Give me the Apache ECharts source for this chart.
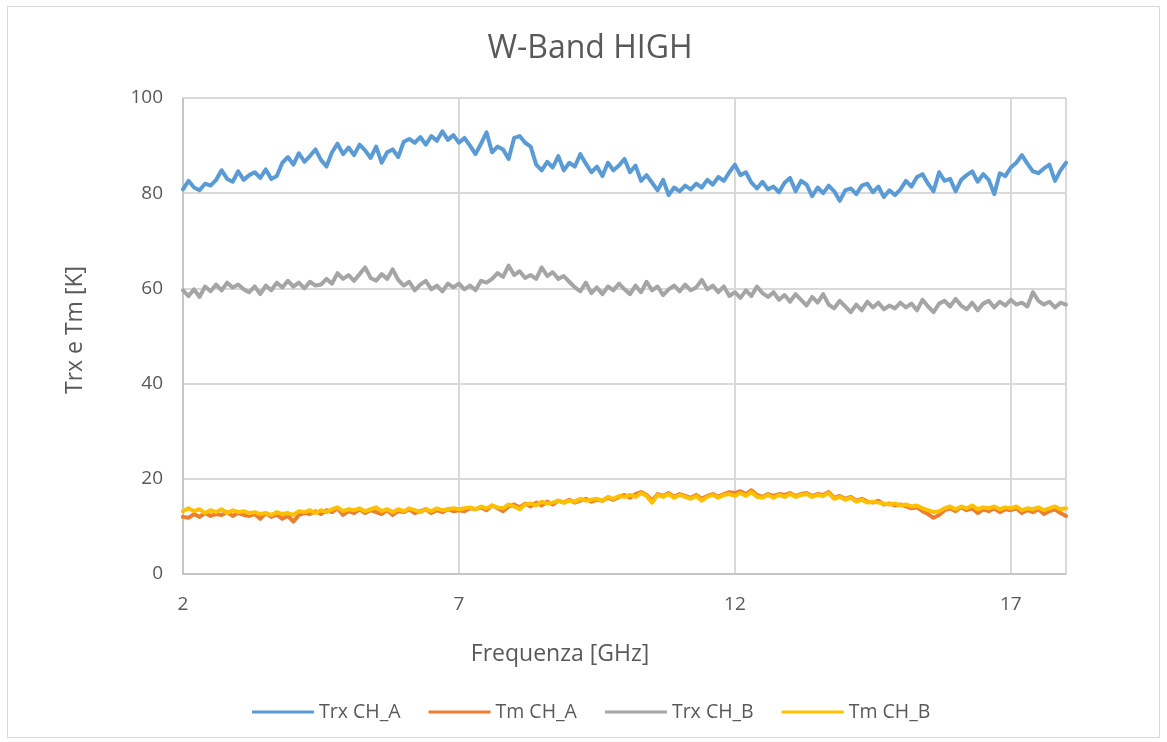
<!DOCTYPE html>
<html>
<head>
<meta charset="utf-8">
<script src="https://cdn.jsdelivr.net/npm/echarts@6/dist/echarts.min.js"></script>
<style>
html,body{margin:0;padding:0;background:#fff;}
#chart{width:1167px;height:742px;}
</style>
</head>
<body>
<div id="chart"></div>
<script>
// Frequency grid (GHz): 2.0 .. 18.0 in 0.1 steps
const freqStart = 2.0;
const freqStep = 0.1;

const xTicks = [2, 7, 12, 17];
const yTicks = [0, 20, 40, 60, 80, 100];

const trxA = [
80.8,82.6,81.2,80.6,82.0,81.6,82.8,84.8,83.0,82.4,84.6,
82.8,83.8,84.4,83.2,85.0,83.0,83.6,86.4,87.6,86.0,
88.4,86.6,87.8,89.2,87.0,85.6,88.6,90.4,88.2,89.6,
88.0,90.2,89.0,87.4,89.8,86.4,88.6,89.2,87.6,90.8,
91.4,90.6,91.8,90.2,92.0,91.0,93.0,91.2,92.2,90.6,
91.6,90.0,88.2,90.4,92.8,88.6,89.8,89.2,87.2,91.6,
92.0,90.6,89.8,86.0,84.8,86.6,85.4,87.8,84.8,86.4,
85.6,88.2,86.2,84.4,85.6,83.6,86.4,84.8,85.8,87.2,
84.4,85.8,82.6,83.8,82.2,80.6,82.8,79.6,81.2,80.4,
81.6,80.8,82.0,81.2,82.8,81.8,83.4,82.6,84.4,86.0,
83.8,84.4,82.2,81.0,82.4,80.8,81.4,80.2,82.2,83.2,
80.4,82.6,81.8,79.4,81.2,80.0,81.6,80.4,78.4,80.6,
81.0,79.8,81.6,82.0,80.2,81.4,79.2,80.6,79.6,80.8,
82.6,81.4,83.4,84.0,82.0,80.4,84.4,82.6,83.0,80.4,
82.8,83.8,84.6,82.4,84.0,82.8,79.8,84.2,83.6,85.4,
86.4,88.0,86.2,84.6,84.2,85.2,86.0,82.6,84.8,86.4
];

const tmA = [
12.0,11.8,12.6,12.0,12.8,12.2,12.6,12.4,13.0,12.2,12.8,
12.4,12.2,12.6,11.6,12.8,12.0,12.4,11.6,12.2,11.0,
12.4,12.8,12.6,13.2,12.6,13.4,13.0,13.8,12.4,13.2,
12.8,13.6,12.8,13.4,13.0,12.6,13.4,12.4,13.2,13.0,
13.6,12.8,13.2,13.6,12.8,13.4,13.0,13.6,13.2,13.4,
13.2,13.8,13.6,14.0,13.4,14.4,13.8,13.2,14.2,14.6,
14.0,14.8,14.2,15.0,14.4,15.2,14.6,15.4,15.0,15.6,
15.0,15.4,15.8,15.2,15.6,15.4,16.0,15.6,16.2,16.6,
16.0,16.8,17.2,16.6,15.4,16.8,16.4,17.0,16.2,16.8,
16.4,16.0,16.6,15.8,16.4,16.8,16.2,16.8,17.2,17.0,
17.4,16.8,17.6,16.6,16.2,16.8,16.4,16.8,16.6,17.0,
16.4,16.8,17.0,16.4,16.8,16.6,17.2,16.0,16.4,15.8,
16.2,15.4,15.8,15.2,15.0,15.4,14.6,14.8,14.4,14.6,
14.2,13.8,14.0,13.2,12.6,11.8,12.4,13.4,13.8,13.2,
14.0,13.4,13.8,12.8,13.6,13.2,13.8,13.0,13.6,13.4,
13.8,12.8,13.4,13.0,13.6,12.6,13.2,13.6,12.8,12.2
];

const trxB = [
59.6,58.4,59.8,58.2,60.4,59.4,60.8,59.6,61.2,60.2,60.8,
59.8,59.2,60.4,58.8,60.6,59.6,61.2,60.2,61.6,60.4,
61.2,60.0,61.4,60.6,60.8,62.0,61.0,63.2,62.0,62.8,
61.6,63.0,64.4,62.2,61.6,63.0,62.0,64.0,61.8,60.6,
61.4,59.6,60.8,61.6,59.8,60.6,59.4,61.0,60.2,61.0,
59.8,60.6,59.6,61.6,61.2,62.0,63.2,62.4,64.8,62.8,
63.6,62.2,62.8,62.0,64.4,62.6,63.4,62.0,62.6,61.4,
60.2,59.4,61.2,59.0,60.2,58.8,60.4,59.6,61.0,59.8,
58.8,60.6,59.2,61.4,59.6,60.4,58.6,59.8,60.6,59.4,
60.8,59.6,60.2,61.8,59.8,60.6,59.2,60.4,58.4,59.2,
58.0,59.6,58.4,60.4,59.0,58.2,59.2,57.6,58.6,57.2,
58.8,57.6,56.4,58.2,57.0,58.8,56.6,55.8,57.4,56.2,
55.0,56.6,55.4,57.2,56.0,57.0,55.6,56.4,55.8,57.0,
56.0,56.8,55.4,57.6,56.2,55.0,56.8,57.4,56.2,57.8,
56.4,55.6,57.0,55.4,56.8,57.4,56.0,57.2,56.4,57.6,
56.6,57.0,56.2,59.2,57.4,56.6,57.2,56.0,57.0,56.6
];

const tmB = [
13.2,13.8,13.2,13.6,12.8,13.4,13.0,13.6,12.8,13.4,13.0,
13.2,12.8,13.0,12.6,12.8,12.4,13.0,12.6,12.8,12.4,
13.2,13.0,13.4,12.8,13.4,13.0,13.6,14.0,13.2,13.6,
13.4,13.8,13.2,13.6,14.0,13.2,13.6,13.0,13.6,13.2,
13.8,13.4,13.0,13.6,13.2,13.8,13.4,13.6,13.8,13.6,
13.8,14.0,13.6,14.2,13.8,14.4,14.0,13.8,14.6,14.2,
13.6,14.6,14.8,14.4,15.2,14.8,15.0,15.4,15.0,15.4,
15.2,15.8,15.4,15.6,15.8,15.4,16.2,15.8,16.4,16.2,
16.6,16.2,17.0,16.4,15.0,16.6,16.2,16.8,16.0,16.6,
16.2,15.8,16.4,15.4,16.2,16.6,16.0,16.6,16.8,16.4,
17.0,16.4,17.2,16.2,16.0,16.6,16.0,16.6,16.2,16.8,
16.2,16.6,16.8,16.2,16.6,16.4,17.0,15.8,16.2,15.6,
16.0,15.2,15.6,15.0,15.2,15.0,14.8,14.6,14.8,14.4,
14.6,14.2,14.4,13.8,13.4,13.0,13.2,13.8,14.2,13.6,
14.2,13.8,14.4,13.6,14.0,13.8,14.2,13.6,14.0,13.8,
14.2,13.4,13.8,13.6,14.0,13.4,13.8,14.2,13.6,13.8
];

const seriesNames = ['Trx CH_A', 'Tm CH_A', 'Trx CH_B', 'Tm CH_B'];
const seriesValues = [trxA, tmA, trxB, tmB];
const colors = ['#5B9BD5', '#ED7D31', '#A5A5A5', '#FFC000'];

const titleText = 'W-Band HIGH';
const xName = 'Frequenza [GHz]';
const yName = 'Trx e Tm [K]';

function toPairs(vals) {
  return vals.map((v, i) => [Math.round((freqStart + i * freqStep) * 10) / 10, v]);
}

const FONT = '"Open Sans", "Noto Sans", sans-serif';
const TXT = '#595959';

const chart = echarts.init(document.getElementById('chart'), null, {renderer: 'canvas'});
chart.setOption({
  animation: false,
  backgroundColor: '#fff',
  color: colors,
  textStyle: {fontFamily: FONT},
  graphic: [
    {
      type: 'rect',
      shape: {x: 7.5, y: 6.5, width: 1152, height: 731},
      style: {fill: 'none', stroke: '#d9d9d9', lineWidth: 1},
      silent: true
    },
    {
      type: 'text', x: 590, y: 49, silent: true,
      style: {text: titleText, fontFamily: FONT, fontSize: 32, fill: TXT, align: 'center', verticalAlign: 'middle'}
    },
    {
      type: 'text', x: 560, y: 654, silent: true,
      style: {text: xName, fontFamily: FONT, fontSize: 23, fill: TXT, align: 'center', verticalAlign: 'middle'}
    },
    {
      type: 'text', x: 75, y: 330, rotation: Math.PI / 2, silent: true,
      style: {text: yName, fontFamily: FONT, fontSize: 23, fill: TXT, align: 'center', verticalAlign: 'middle'}
    }
  ],
  legend: {
    data: seriesNames,
    bottom: 15,
    left: 247,
    icon: 'rect',
    itemWidth: 62,
    itemHeight: 3,
    itemGap: 28,
    textStyle: {fontFamily: FONT, fontSize: 19.5, color: TXT}
  },
  grid: {left: 183, right: 101, top: 98, bottom: 168, containLabel: false},
  xAxis: {
    type: 'value',
    min: xTicks[0],
    max: 18,
    interval: xTicks[1] - xTicks[0],
    axisLine: {show: true, lineStyle: {color: '#bfbfbf', width: 1.5}},
    axisTick: {show: false},
    axisLabel: {fontFamily: FONT, fontSize: 19, color: TXT, margin: 21, showMaxLabel: false},
    splitLine: {show: true, lineStyle: {color: '#d9d9d9', width: 2}}
  },
  yAxis: {
    type: 'value',
    min: yTicks[0],
    max: yTicks[yTicks.length - 1],
    interval: yTicks[1] - yTicks[0],
    axisLine: {show: true, lineStyle: {color: '#bfbfbf', width: 1.5}},
    axisTick: {show: false},
    axisLabel: {fontFamily: FONT, fontSize: 19, color: TXT, margin: 20},
    splitLine: {show: true, lineStyle: {color: '#d9d9d9', width: 2}}
  },
  series: seriesNames.map((n, k) => ({
    name: n,
    type: 'line',
    data: toPairs(seriesValues[k]),
    showSymbol: false,
    symbol: 'none',
    lineStyle: {width: 4, color: colors[k], join: 'round', cap: 'round'},
    itemStyle: {color: colors[k]},
    z: 2 + k
  }))
});
</script>
</body>
</html>
